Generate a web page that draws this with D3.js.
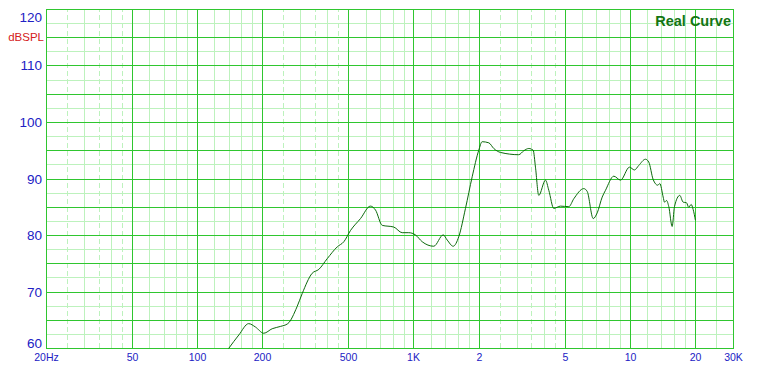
<!DOCTYPE html>
<html>
<head>
<meta charset="utf-8">
<script src="https://cdn.jsdelivr.net/npm/d3@7"></script>
<style>
    body { margin: 0; background: #fff; }
    svg { display: block; }
    .grid-minor line { stroke: #bdf2bd; }
    .grid-dashed line { stroke: #bdf2bd; stroke-dasharray: 5,3; }
    .grid-major line { stroke: #2fc62f; }
    .border { fill: none; stroke: #2fc62f; }
    .curve { fill: none; stroke: #0c6a0c; stroke-width: 1; }
    .labels text { fill: #2121c4; font-family: Arial, "Liberation Sans", sans-serif; }
</style>
</head>
<body>
<div id="chart"></div>
<script>
// measured response, Hz / dB SPL
const freqs = [139, 155, 172, 185, 202, 221, 241, 261, 288, 304,
    338, 363, 397, 442, 474, 509, 566, 629, 664, 713,
    806, 882, 946, 1016, 1091, 1234, 1365, 1424, 1518, 1611,
    1730, 1858, 1993, 2066, 2218, 2338, 2512, 3050, 3218, 3394,
    3556, 3644, 3774, 4054, 4200, 4428, 4756, 5196, 5480, 6096,
    6320, 6738, 7030, 7414, 7680, 8390, 9010, 9914, 10452, 10944,
    11752, 12172, 12758, 13398, 13688, 14192, 14390, 14700, 15068, 15614,
    16004, 16932, 17552, 18182, 18632, 19118, 19528, 20000];
const spl = [60.0, 62.4, 64.4, 63.8, 62.7, 63.5, 63.9, 64.4, 67.4, 69.7,
    73.3, 74.0, 75.9, 78.0, 78.9, 80.9, 83.0, 85.2, 84.5, 81.8,
    81.5, 80.5, 80.5, 80.1, 78.9, 78.1, 80.1, 79.2, 78.1, 79.8,
    84.8, 90.4, 95.1, 96.6, 96.4, 95.4, 94.7, 94.3, 95.0, 95.4,
    95.1, 92.1, 87.1, 89.8, 88.0, 84.8, 85.2, 85.1, 86.5, 88.3,
    87.8, 83.0, 84.0, 86.8, 88.0, 90.5, 89.8, 92.1, 91.6, 92.4,
    93.5, 93.0, 89.9, 88.9, 89.2, 86.8, 85.9, 86.2, 85.1, 81.6,
    85.1, 87.1, 85.9, 85.8, 85.0, 85.5, 84.6, 82.7];

const xMajorTicks = [20, 50, 100, 200, 500, 1000, 2000, 5000, 10000, 20000];
const xMinorTicks = [30, 40, 60, 70, 80, 90, 120, 140, 160, 180,
    300, 400, 600, 700, 800, 900, 1200, 1400, 1600, 1800,
    3000, 4000, 6000, 7000, 8000, 9000, 12000, 14000, 16000, 18000, 25000];
const xDashedTicks = [25, 35, 45, 250, 350, 450, 2500, 3500, 4500];
const xLabelTicks = [20, 50, 100, 200, 500, 1000, 2000, 5000, 10000, 20000, 30000];
const xLabels = ["20Hz", "50", "100", "200", "500", "1K", "2", "5", "10", "20", "30K"];

const yMajorTicks = [65, 70, 75, 80, 85, 90, 95, 100, 105, 110, 115];
const yMinorTicks = [62.5, 67.5, 72.5, 77.5, 82.5, 87.5, 92.5, 97.5, 102.5, 107.5, 112.5, 117.5];
const yLabelTicks = [60, 70, 80, 90, 100, 110, 120];

(function () {
    "use strict";

    const width = 764;
    const height = 376;
    const left = 46, right = 733, top = 9, bottom = 348;

    const svg = d3.select("#chart").append("svg")
        .attr("width", width)
        .attr("height", height);

    const xScale = d3.scaleLog()
        .domain([20, 30000])
        .range([left, right]);

    const yScale = d3.scaleLinear()
        .domain([60, 120])
        .range([bottom, top]);

    // rounded copies so the grid lands on whole pixels
    const xGrid = xScale.copy().interpolate(d3.interpolateRound);
    const yGrid = yScale.copy().interpolate(d3.interpolateRound);

    function vGrid(cls, values) {
        const axis = d3.axisBottom(xGrid)
            .tickValues(values)
            .tickSize(-(bottom - top))
            .tickFormat("");
        const g = svg.append("g")
            .attr("class", cls)
            .attr("transform", `translate(0,${bottom})`)
            .call(axis);
        g.select(".domain").remove();
    }

    function hGrid(cls, values) {
        const axis = d3.axisLeft(yGrid)
            .tickValues(values)
            .tickSize(-(right - left))
            .tickFormat("");
        const g = svg.append("g")
            .attr("class", cls)
            .attr("transform", `translate(${left},0)`)
            .call(axis);
        g.select(".domain").remove();
    }

    hGrid("grid-minor", yMinorTicks);
    vGrid("grid-minor", xMinorTicks);
    vGrid("grid-dashed", xDashedTicks);
    hGrid("grid-major", yMajorTicks);
    vGrid("grid-major", xMajorTicks);

    svg.append("rect")
        .attr("class", "border")
        .attr("x", xGrid(20) + 0.5)
        .attr("y", yGrid(120) + 0.5)
        .attr("width", xGrid(30000) - xGrid(20))
        .attr("height", yGrid(60) - yGrid(120));

    svg.append("defs")
        .append("clipPath")
        .attr("id", "plot-clip")
        .append("rect")
        .attr("x", left)
        .attr("y", top)
        .attr("width", right - left)
        .attr("height", bottom - top + 1);

    const points = freqs.map((f, i) => ({ f, db: spl[i] }));

    const line = d3.line()
        .x(d => xScale(d.f) + 0.5)
        .y(d => yScale(d.db) + 0.5)
        .curve(d3.curveMonotoneX);

    svg.append("path")
        .attr("class", "curve")
        .attr("clip-path", "url(#plot-clip)")
        .attr("d", line(points));

    // x labels
    const xLabelAxis = d3.axisBottom(xGrid)
        .tickValues(xLabelTicks)
        .tickFormat((d, i) => xLabels[i])
        .tickSize(0)
        .tickPadding(6);

    const xl = svg.append("g")
        .attr("class", "labels")
        .attr("transform", `translate(0,${bottom})`)
        .call(xLabelAxis);
    xl.select(".domain").remove();
    xl.selectAll("text").attr("font-size", 10.5);

    // y labels
    const yLabelAxis = d3.axisLeft(yGrid)
        .tickValues(yLabelTicks)
        .tickSize(0)
        .tickPadding(4);

    const yl = svg.append("g")
        .attr("class", "labels")
        .attr("transform", `translate(${left},0)`)
        .call(yLabelAxis);
    yl.select(".domain").remove();
    yl.selectAll("text").attr("font-size", 13.5);
    yl.selectAll(".tick")
        .filter(d => d === 120)
        .select("text")
        .attr("y", 8);
    yl.selectAll(".tick")
        .filter(d => d === 60)
        .select("text")
        .attr("y", -5);

    svg.append("text")
        .attr("x", 44)
        .attr("y", 40.5)
        .attr("text-anchor", "end")
        .attr("font-family", "Arial, 'Liberation Sans', sans-serif")
        .attr("font-size", 11.5)
        .attr("fill", "#d42020")
        .text("dBSPL");

    svg.append("text")
        .attr("x", 731)
        .attr("y", 25.5)
        .attr("text-anchor", "end")
        .attr("font-family", "Arial, 'Liberation Sans', sans-serif")
        .attr("font-size", 14.5)
        .attr("font-weight", "bold")
        .attr("fill", "#137513")
        .text("Real Curve");
}());
</script>
</body>
</html>
